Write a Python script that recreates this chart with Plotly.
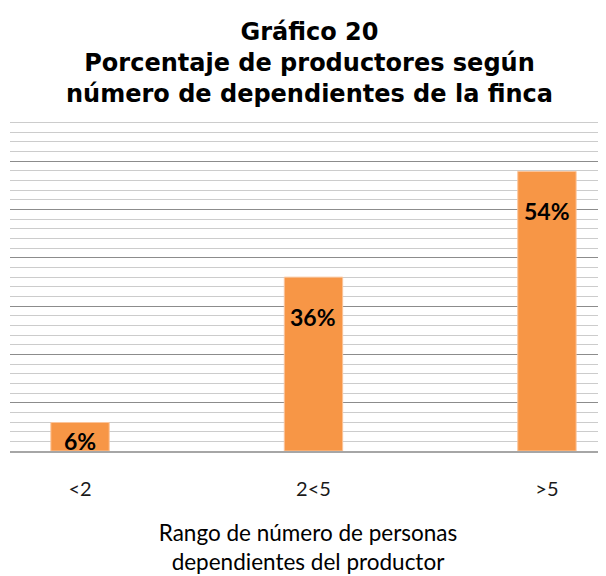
import plotly.graph_objects as go

categories = ["<2", "2<5", ">5"]
values = [5.9, 36.0, 57.9]
labels = ["6%", "36%", "54%"]

title_lines = ["Gráfico 20", "Porcentaje de productores según", "número de dependientes de la finca"]
x_title_lines = ["Rango de número de personas", "dependientes del productor"]

W, H = 606, 576
M = dict(l=2, r=8, t=105, b=133)
Y_MAX = 70
px_per_unit = (H - M["t"] - M["b"]) / Y_MAX

fig = go.Figure()
fig.add_trace(go.Bar(
    x=categories, y=values,
    marker=dict(color="#F79646", line=dict(color="#FBC49A", width=1)),
    width=0.25, hoverinfo="x+y",
))

annotations = [dict(text="<br>".join(title_lines), xref="paper", yref="paper",
                    x=0.5017, y=1, xanchor="center", yanchor="bottom", yshift=3,
                    showarrow=False, align="center",
                    font=dict(family="DejaVu Sans", size=24, color="#000000", weight="bold"))]
for c, v, lab in zip(categories, values, labels):
    annotations.append(dict(
        text=lab, x=c, y=v, xref="x", yref="y", xanchor="center", yanchor="middle",
        yshift=-min(40, 0.64 * v * px_per_unit), showarrow=False,
        font=dict(family="Lato", size=23, color="#000000", weight="bold")))

fig.update_layout(
    width=W, height=H,
    margin=dict(**M, autoexpand=False),
    paper_bgcolor="white", plot_bgcolor="white",
    showlegend=False,
    xaxis=dict(range=[-0.3, 2.253], showgrid=False, showline=True, linecolor="#A6A6A6", linewidth=2,
               ticks="", ticklabelstandoff=19, automargin=False,
               tickfont=dict(family="Lato", size=20, color="#1a1a1a"),
               title=dict(text="<br>".join(x_title_lines), standoff=26,
                          font=dict(family="Lato", size=22.5, color="#000000"))),
    yaxis=dict(range=[0, Y_MAX], dtick=10, showticklabels=False, ticks="", automargin=False,
               showgrid=True, gridcolor="#8C8C8C", gridwidth=1, zeroline=False,
               minor=dict(dtick=2, showgrid=True, gridcolor="#CCCCCC", gridwidth=1)),
    annotations=annotations,
)

fig.write_html("out.html")
